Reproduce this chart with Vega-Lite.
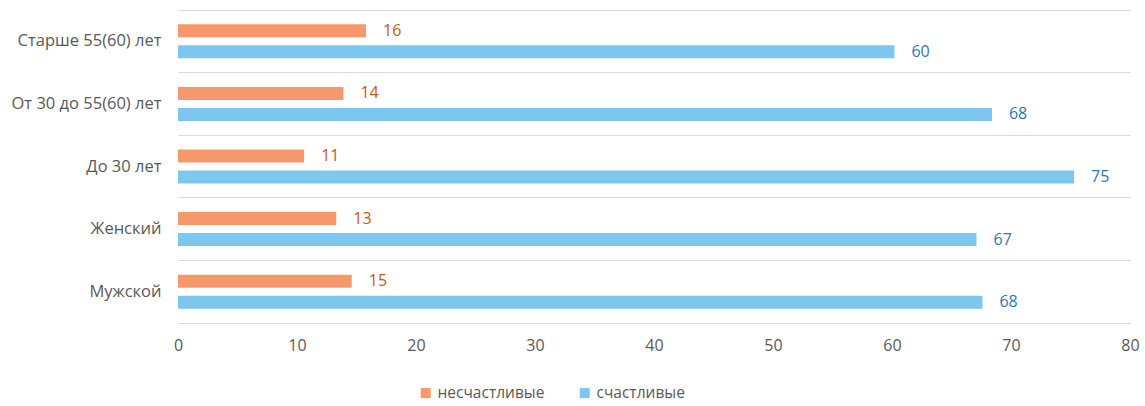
{
  "$schema": "https://vega.github.io/schema/vega-lite/v6.json",
  "width": 952,
  "height": 313,
  "autosize": {"type": "none"},
  "padding": {"left": 178, "top": 10, "right": 15, "bottom": 83},
  "background": "#ffffff",
  "config": {
    "view": {"stroke": null},
    "font": "Open Sans"
  },
  "data": {
    "values": [
      {"group": "Старше 55(60) лет", "series": "несчастливые", "value": 15.8},
      {"group": "Старше 55(60) лет", "series": "счастливые", "value": 60.2},
      {"group": "От 30 до 55(60) лет", "series": "несчастливые", "value": 13.9},
      {"group": "От 30 до 55(60) лет", "series": "счастливые", "value": 68.4},
      {"group": "До 30 лет", "series": "несчастливые", "value": 10.6},
      {"group": "До 30 лет", "series": "счастливые", "value": 75.3},
      {"group": "Женский", "series": "несчастливые", "value": 13.3},
      {"group": "Женский", "series": "счастливые", "value": 67.1},
      {"group": "Мужской", "series": "несчастливые", "value": 14.6},
      {"group": "Мужской", "series": "счастливые", "value": 67.6}
    ]
  },
  "encoding": {
    "y": {
      "field": "group",
      "type": "nominal",
      "sort": ["Старше 55(60) лет", "От 30 до 55(60) лет", "До 30 лет", "Женский", "Мужской"],
      "scale": {"paddingInner": 0, "paddingOuter": 0},
      "axis": {
        "title": null,
        "domain": false,
        "ticks": false,
        "labelPadding": 17,
        "labelFontSize": 16.5,
        "labelColor": "#595959",
        "grid": true,
        "gridColor": "#d9d9d9",
        "gridWidth": 1,
        "bandPosition": 0
      }
    },
    "yOffset": {
      "field": "series",
      "type": "nominal",
      "sort": ["несчастливые", "счастливые"],
      "scale": {"paddingInner": 0.381, "paddingOuter": 0.681}
    },
    "x": {
      "field": "value",
      "type": "quantitative",
      "scale": {"domain": [0, 80], "nice": false},
      "axis": {
        "title": null,
        "values": [0, 10, 20, 30, 40, 50, 60, 70, 80],
        "grid": false,
        "ticks": false,
        "domain": true,
        "domainColor": "#d9d9d9",
        "domainWidth": 1,
        "labelPadding": 14,
        "labelFontSize": 16,
        "labelColor": "#595959",
        "labelFlush": false
      }
    }
  },
  "layer": [
    {
      "mark": {"type": "bar"},
      "encoding": {
        "color": {
          "field": "series",
          "type": "nominal",
          "sort": ["несчастливые", "счастливые"],
          "scale": {"domain": ["несчастливые", "счастливые"], "range": ["#F7986A", "#7DC6EE"]},
          "legend": {
            "title": null,
            "orient": "none",
            "direction": "horizontal",
            "legendX": 240,
            "legendY": 375,
            "symbolType": "square",
            "symbolSize": 100,
            "symbolStrokeWidth": 0,
            "labelFontSize": 15.5,
            "labelColor": "#595959",
            "labelOffset": 4,
            "columnPadding": 32
          }
        }
      }
    },
    {
      "mark": {"type": "text", "align": "left", "baseline": "middle", "dx": 17, "fontSize": 16},
      "encoding": {
        "text": {"field": "value", "type": "quantitative", "format": ".0f"},
        "color": {
          "condition": {"test": "datum.series === 'несчастливые'", "value": "#C55A11"},
          "value": "#2E75B6"
        }
      }
    }
  ]
}
